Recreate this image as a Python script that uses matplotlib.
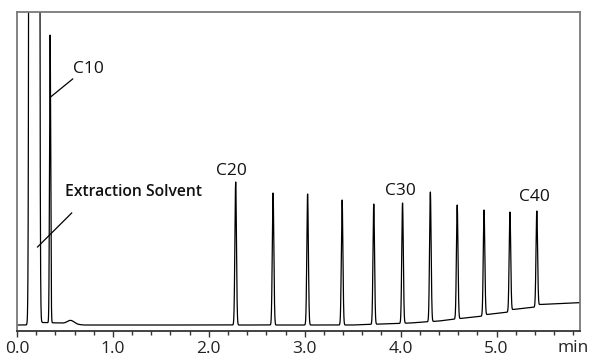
import numpy as np
import matplotlib
matplotlib.use("Agg")
import matplotlib.pyplot as plt
from matplotlib.ticker import MultipleLocator, FormatStrFormatter

# peak table (time in min, apex height above axis)
solvent_rt = 0.18
solvent_height = 1.0e6          # off scale
alkane_labels = ["C10", "C20", "C22", "C24", "C26", "C28", "C30",
                 "C32", "C34", "C36", "C38", "C40"]
alkane_rt = [0.345, 2.28, 2.67, 3.03, 3.39, 3.72, 4.02,
             4.31, 4.59, 4.87, 5.14, 5.42]
alkane_top = [296, 149, 138, 137, 131, 127, 128,
              139, 126, 121, 119, 120]
alkane_sigma = [0.006, 0.008, 0.008, 0.008, 0.008, 0.008, 0.008,
                0.008, 0.008, 0.008, 0.008, 0.008]
bump_rt, bump_height = 0.56, 3.5

# baseline drift (time, level)
base_t = [0.0, 0.13, 0.26, 0.45, 0.70, 3.50, 3.80, 4.10, 4.40, 4.62,
          4.86, 4.90, 5.13, 5.17, 5.41, 5.45, 5.90]
base_y = [6, 6, 8.5, 8, 6, 6, 7, 8, 10, 12.5,
          15, 16.5, 19, 21.5, 24, 26.5, 28.5]

annotations = [
    # text, text x, text y, line from, line to
    ("C10", 0.58, 262, (0.58, 252), (0.35, 234)),
    ("Extraction Solvent", 0.50, 139, (0.57, 118), (0.214, 84)),
]
peak_tags = [("C20", 2.24, 160), ("C30", 4.00, 140), ("C40", 5.40, 134)]

t = np.linspace(0, 5.9, 12000)
y = np.interp(t, base_t, base_y)
y = y + solvent_height * np.exp(-0.5 * ((t - solvent_rt) / 0.0149) ** 2)
y = y + bump_height * np.exp(-0.5 * ((t - bump_rt) / 0.035) ** 2)
for rt, top, sg in zip(alkane_rt, alkane_top, alkane_sigma):
    b = np.interp(rt, base_t, base_y)
    y = y + (top - b) * np.exp(-0.5 * ((t - rt) / sg) ** 2)

plt.rcParams["font.family"] = ["Open Sans", "DejaVu Sans"]
fig = plt.figure(figsize=(5.93, 3.58), dpi=100)
ax = fig.add_axes([0.0287, 0.0754, 0.978 - 0.0287, 0.9665 - 0.0754])
ax.plot(t, y, color="black", lw=0.9)
ax.set_xlim(0, 5.87)
ax.set_ylim(0, 319)

for s in ax.spines.values():
    s.set_color("#7a7a7a")
    s.set_linewidth(1.3)
ax.spines["bottom"].set_color("#333333")
ax.set_yticks([])
ax.xaxis.set_major_locator(MultipleLocator(1.0))
ax.xaxis.set_minor_locator(MultipleLocator(0.2))
ax.xaxis.set_major_formatter(FormatStrFormatter("%.1f"))
ax.tick_params(axis="x", which="major", length=4, width=1, color="#333333",
               labelsize=12.5, pad=3.5, labelcolor="#222222")
ax.tick_params(axis="x", which="minor", length=3, width=1, color="#333333")
ax.text(5.8, -0.027, "min", transform=ax.get_xaxis_transform(), ha="center",
        va="top", fontsize=12.5, color="#222222")

for txt, tx, ty, p0, p1 in annotations:
    if "Solvent" in txt:
        ax.text(tx, ty, txt, ha="left", va="center", fontsize=11.3,
                fontweight="semibold", color="#111111")
    else:
        ax.text(tx, ty, txt, ha="left", va="center", fontsize=12.5,
                color="#111111")
    ax.plot([p0[0], p1[0]], [p0[1], p1[1]], color="black", lw=0.9)
for txt, tx, ty in peak_tags:
    ax.text(tx, ty, txt, ha="center", va="center", fontsize=12.5, color="#111111")

fig.savefig("out.png", dpi=100)
